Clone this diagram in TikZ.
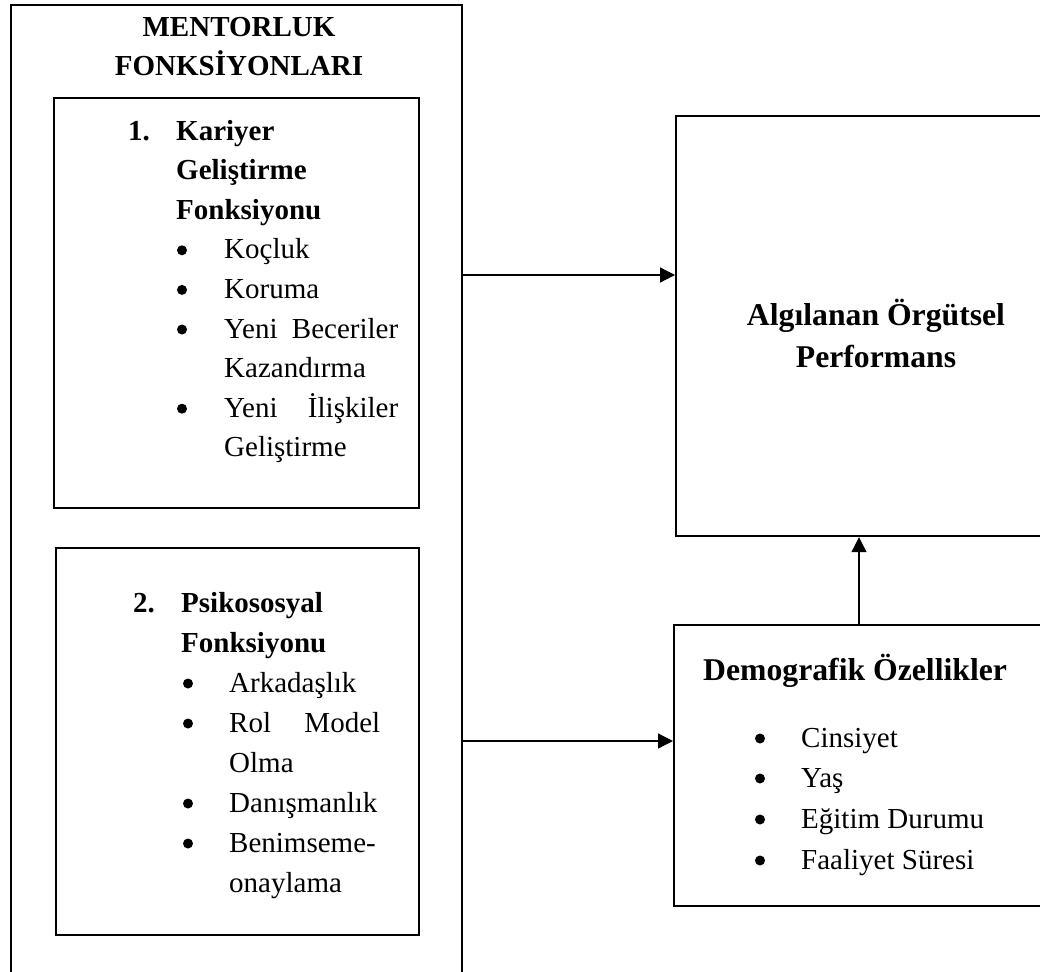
\documentclass[tikz,border=0pt]{standalone}
\usepackage{fontspec}
\setmainfont{Liberation Serif}
\usetikzlibrary{arrows.meta}
\tikzset{
  box/.style={draw=black, line width=2.2pt, fill=none, inner sep=0pt, anchor=north west},
  conn/.style={draw=black, line width=1.2pt, -{Triangle[length=15pt,width=15pt]}},
  tl/.style={inner sep=0pt, anchor=base west, font=\fontsize{29}{39.6}\selectfont},
  tb/.style={tl, font=\fontsize{29}{39.6}\selectfont\bfseries},
  tc/.style={tb, anchor=base},
  tr/.style={inner sep=0pt, anchor=base, font=\fontsize{31.7}{42}\selectfont\bfseries},
  dot/.style={circle, fill=black, draw=none, inner sep=0pt, minimum size=10pt},
}
\begin{document}
\begin{tikzpicture}[x=1pt, y=-1pt]
\useasboundingbox (0,0) rectangle (1040,971);
\clip (0,0) rectangle (1040,971);
% boxes
\node[box, minimum width=451pt, minimum height=1010pt] (outer) at (10,4) {};
\node[box, minimum width=365pt, minimum height=410pt] (b1) at (53,97) {};
\node[box, minimum width=363pt, minimum height=387pt] (b2) at (55,547) {};
\node[box, minimum width=420pt, minimum height=420pt] (perf) at (675,115) {};
\node[box, minimum width=420pt, minimum height=281pt] (demo) at (673,624) {};
% title
\node[tc] (t1) at (239,37) {MENTORLUK};
\node[tc] (t2) at (239,76) {FONKSİYONLARI};
% box 1
\node[tb] (n1) at (128,140) {1.};
\node[tb] (k1) at (176,140) {Kariyer};
\node[tb] (k2) at (176,179.6) {Geliştirme};
\node[tb] (k3) at (176,219.2) {Fonksiyonu};
\node[dot] (bk1) at (182,250.3) {};
\node[tl] (i1) at (224,258.8) {Koçluk};
\node[dot] (bk2) at (182,289.9) {};
\node[tl] (i2) at (224,298.4) {Koruma};
\node[dot] (bk3) at (182,329.5) {};
\node[tl] (i3) at (224,338) {\makebox[174pt][s]{Yeni\hfill Beceriler}};
\node[tl] (i3b) at (224,377.6) {Kazandırma};
\node[dot] (bk4) at (182,408.7) {};
\node[tl] (i4) at (224,417.2) {\makebox[174pt][s]{Yeni\hfill İlişkiler}};
\node[tl] (i4b) at (224,456.8) {Geliştirme};
% box 2
\node[tb] (n2) at (133,612) {2.};
\node[tb] (p1) at (181,612) {Psikososyal};
\node[tb] (p2) at (181,652) {Fonksiyonu};
\node[dot] (bp1) at (188,683.5) {};
\node[tl] (j1) at (229,692) {Arkadaşlık};
\node[dot] (bp2) at (188,723.5) {};
\node[tl] (j2) at (229,732) {\makebox[151pt][s]{Rol\hfill Model}};
\node[tl] (j2b) at (229,772) {Olma};
\node[dot] (bp3) at (188,803.5) {};
\node[tl] (j3) at (229,812) {Danışmanlık};
\node[dot] (bp4) at (188,843.5) {};
\node[tl] (j4) at (229,852) {Benimseme-};
\node[tl] (j4b) at (229,892) {onaylama};
% performance
\node[tr] (r1) at (876,325) {Algılanan Örgütsel};
\node[tr] (r2) at (876,367) {Performans};
% demographics
\node[tr, anchor=base west] (d0) at (703,680) {Demografik Özellikler};
\node[dot] (bd1) at (760,738.5) {};
\node[tl] (d1) at (801,747) {Cinsiyet};
\node[dot] (bd2) at (760,778.5) {};
\node[tl] (d2) at (801,787) {Yaş};
\node[dot] (bd3) at (760,819.5) {};
\node[tl] (d3) at (801,828) {Eğitim Durumu};
\node[dot] (bd4) at (760,860.5) {};
\node[tl] (d4) at (801,869) {Faaliyet Süresi};
% connectors
\coordinate (ya) at (0,275);
\coordinate (yb) at (0,741);
\coordinate (xu) at (859,0);
\draw[conn] (outer.east |- ya) -- (perf.west |- ya);
\draw[conn] (outer.east |- yb) -- (demo.west |- yb);
\draw[conn] (xu |- demo.north) -- (xu |- perf.south);
\end{tikzpicture}
\end{document}
